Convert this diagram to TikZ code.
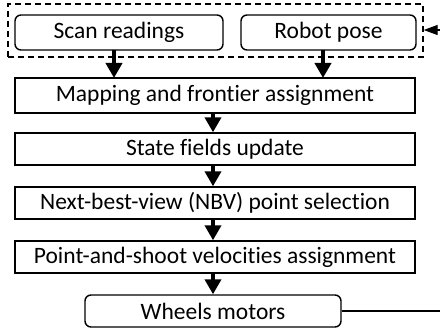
\documentclass[tikz,border=0pt]{standalone}
\usepackage{fontspec}
\setmainfont[Ligatures={NoCommon}]{Carlito}
\usetikzlibrary{arrows.meta}
\begin{document}
\begin{tikzpicture}[x=1pt,y=-1pt,
  stage/.style={draw, line width=1.4pt, minimum width=400pt, minimum height=32pt,
    inner sep=0pt, font=\fontsize{23.5}{28}\selectfont},
  rstage/.style={stage, rounded corners=6pt},
  flow/.style={line width=4pt, -{Triangle[length=15pt,width=16pt]}},
  feedback/.style={line width=1.2pt}]
\useasboundingbox (0,0) rectangle (440,334);
% sensor inputs grouped in a dashed frame
\node[draw, dashed, line width=1.4pt, dash pattern=on 6pt off 4pt,
  minimum width=415pt, minimum height=53pt, inner sep=0pt] (inputs) at (215.5,30.5) {};
\node[rstage, minimum width=208pt, minimum height=35pt] (scan) at (119,32.5) {Scan readings};
\node[rstage, minimum width=175pt, minimum height=35pt] (pose) at (328.5,32.5) {Robot pose};
% processing chain
\node[stage, minimum height=35pt] (map) at (215,95.5) {Mapping and frontier assignment};
\node[stage] (state) at (215,149) {State fields update};
\node[stage] (nbv) at (215,203) {Next-best-view (NBV) point selection};
\node[stage] (pas) at (215,257) {Point-and-shoot velocities assignment};
\node[rstage, minimum width=256pt] (wheels) at (213,311) {Wheels motors};
% arrows down the chain
\draw[flow] (114,50) -- (114,78);
\draw[flow] (323,50) -- (323,78);
\draw[flow] (map.south -| 213,0) -- (state.north -| 213,0);
\draw[flow] (state.south -| 213,0) -- (nbv.north -| 213,0);
\draw[flow] (nbv.south -| 213,0) -- (pas.north -| 213,0);
\draw[flow] (pas.south -| 213,0) -- (wheels.north -| 213,0);
% feedback loop leaving and re-entering at the right edge
\coordinate (fbout) at (440,311);
\coordinate (fbin) at (440,30);
\draw[feedback] (wheels.east) -- (fbout);
\draw[feedback, -{Triangle[length=14pt,width=10pt]}] (fbin) -- (inputs.east |- fbin);
\end{tikzpicture}
\end{document}
